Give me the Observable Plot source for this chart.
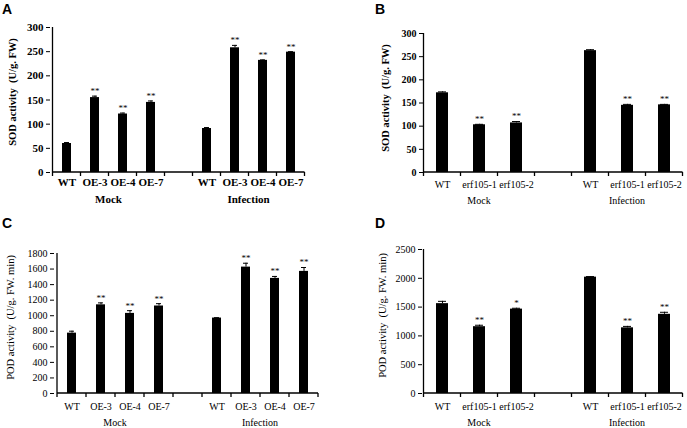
<!DOCTYPE html>
<html>
<head>
<meta charset="utf-8">
<script src="https://cdn.jsdelivr.net/npm/d3@7"></script>
<script src="https://cdn.jsdelivr.net/npm/@observablehq/plot@0.6"></script>
<style>
  html, body { margin: 0; padding: 0; background: #fff; }
  #wrap { position: relative; width: 687px; height: 428px; overflow: hidden; background: #fff; }
  .panel { position: absolute; }
  .letter { position: absolute; font-family: "Liberation Sans", Arial, sans-serif; font-weight: bold; font-size: 14px; color: #000; }
</style>
</head>
<body>
<div id="wrap"></div>
<script>
// ---------- data ----------
const groupNames = ["Mock", "Infection"];
const oeLines = ["WT", "OE-3", "OE-4", "OE-7"];
const erfLines = ["WT", "erf105-1", "erf105-2"];

// Panel A: SOD activity, overexpression lines
const sodOEMock = [60, 155, 121, 145];
const sodOEMockErr = [2, 3, 2, 3];
const sodOEMockSig = ["", "**", "**", "**"];
const sodOEInf = [91, 258, 232, 249];
const sodOEInfErr = [2, 5, 1, 1];
const sodOEInfSig = ["", "**", "**", "**"];

// Panel B: SOD activity, erf105 mutants
const sodErfMock = [172, 103, 107];
const sodErfMockErr = [2, 1, 3];
const sodErfMockSig = ["", "**", "**"];
const sodErfInf = [263, 145, 146];
const sodErfInfErr = [2, 2, 1];
const sodErfInfSig = ["", "**", "**"];

// Panel C: POD activity, overexpression lines
const podOEMock = [776, 1140, 1030, 1125];
const podOEMockErr = [25, 25, 35, 30];
const podOEMockSig = ["", "**", "**", "**"];
const podOEInf = [970, 1625, 1480, 1570];
const podOEInfErr = [5, 50, 25, 50];
const podOEInfSig = ["", "**", "**", "**"];

// Panel D: POD activity, erf105 mutants
const podErfMock = [1560, 1160, 1465];
const podErfMockErr = [40, 25, 15];
const podErfMockSig = ["", "**", "*"];
const podErfInf = [2020, 1140, 1375];
const podErfInfErr = [10, 25, 35];
const podErfInfSig = ["", "**", "**"];

const sodTicks = [0, 50, 100, 150, 200, 250, 300];
const podOETicks = [0, 200, 400, 600, 800, 1000, 1200, 1400, 1600, 1800];
const podErfTicks = [0, 500, 1000, 1500, 2000, 2500];
const sodTitle = "SOD activity\u00a0 (U/g. FW)";
const podTitle = "POD activity\u00a0 (U/g. FW. min)";

// ---------- helpers ----------
function buildRows(lines, mock, mockErr, mockSig, inf, infErr, infSig) {
  const rows = [];
  lines.forEach((l, i) => rows.push({key: "M|" + l, group: groupNames[0], line: l, value: mock[i], err: mockErr[i], sig: mockSig[i]}));
  lines.forEach((l, i) => rows.push({key: "I|" + l, group: groupNames[1], line: l, value: inf[i], err: infErr[i], sig: infSig[i]}));
  return rows;
}

function makePanel(cfg) {
  const rows = cfg.rows;
  const mockKeys = rows.filter(d => d.group === groupNames[0]).map(d => d.key);
  const infKeys = rows.filter(d => d.group === groupNames[1]).map(d => d.key);
  const domain = [...mockKeys, "gap", ...infKeys];
  const lineOf = new Map(rows.map(d => [d.key, d.line]));

  const decor = (index, scales, values, dims) => {
    const x = scales.x, y = scales.y;
    const b0 = x(domain[0]), b1 = x(domain[1]);
    const step = b1 - b0;
    const bw = x.bandwidth ? x.bandwidth() : step * 0.3;
    const off = (step - bw) / 2;
    const y0 = y(0);
    const yTop = y(cfg.ticks[cfg.ticks.length - 1]);
    const left = b0 - off;
    const right = x(domain[domain.length - 1]) + bw + off;
    const g = d3.create("svg:g").attr("stroke", "#000").attr("stroke-width", 1.3).attr("fill", "none");
    g.append("line").attr("x1", left).attr("x2", left).attr("y1", y0).attr("y2", yTop);
    g.append("line").attr("x1", left).attr("x2", right).attr("y1", y0).attr("y2", y0);
    const bounds = domain.map(k => x(k) - off).concat([right]);
    for (const bx of bounds) g.append("line").attr("x1", bx).attr("x2", bx).attr("y1", y0).attr("y2", y0 + 4);
    const gt = g.append("g").attr("stroke", "none").attr("fill", "#000")
      .attr("font-size", cfg.groupSize).attr("font-weight", cfg.groupWeight).attr("text-anchor", "middle");
    [[mockKeys, groupNames[0]], [infKeys, groupNames[1]]].forEach(([ks, name]) => {
      const cx = (x(ks[0]) + x(ks[ks.length - 1]) + bw) / 2;
      gt.append("text").attr("x", cx).attr("y", y0 + cfg.groupOffset).text(name);
    });
    return g.node();
  };

  return Plot.plot({
    width: 344,
    height: 214,
    marginLeft: cfg.ml, marginRight: cfg.mr, marginTop: cfg.mt, marginBottom: cfg.mb,
    style: {fontFamily: "'Liberation Serif', 'Times New Roman', serif", fontSize: cfg.fontSize, background: "transparent", overflow: "visible"},
    x: {domain, paddingInner: cfg.pad, paddingOuter: cfg.pad / 2, axis: null},
    y: {domain: [0, cfg.ticks[cfg.ticks.length - 1]], axis: null},
    marks: [
      Plot.barY(rows, {x: "key", y: "value", fill: "#000"}),
      Plot.ruleX(rows, {x: "key", y1: "value", y2: d => d.value + d.err, stroke: "#000", strokeWidth: 1}),
      Plot.tickY(rows, {x: "key", y: d => d.value + d.err, stroke: "#000", strokeWidth: 1, insetLeft: 2, insetRight: 2}),
      Plot.text(rows.filter(d => d.sig), {x: "key", y: d => d.value + d.err, text: "sig", dy: -5, fontSize: 9, fill: "#000"}),
      Plot.axisY({ticks: cfg.ticks, tickSize: 4, tickPadding: 3, label: null, fontWeight: cfg.yTickWeight, tickFormat: d => String(d)}),
      Plot.axisX({tickSize: 0, tickPadding: cfg.xPad, label: null, fontWeight: cfg.xTickWeight, tickFormat: k => lineOf.get(k) || ""}),
      Plot.text([cfg.title], {frameAnchor: "left", textAnchor: "middle", lineAnchor: "middle", rotate: -90, dx: -cfg.titleOffset, dy: -(cfg.titleUp || 0), fontWeight: cfg.titleWeight, fontSize: cfg.titleSize, fill: "#000"}),
      decor
    ]
  });
}

const panels = [
  {id: "A", left: 0, top: 0, letterX: 2, letterY: 1,
   rows: buildRows(oeLines, sodOEMock, sodOEMockErr, sodOEMockSig, sodOEInf, sodOEInfErr, sodOEInfSig),
   ticks: sodTicks, title: sodTitle,
   ml: 50, mr: 37, mt: 27, mb: 42, pad: 0.685, fontSize: "11px",
   xPad: 6, groupOffset: 31, groupSize: 11, groupWeight: "bold",
   yTickWeight: "bold", xTickWeight: "bold", titleWeight: "bold", titleSize: 10.5, titleOffset: 38, titleUp: 8},
  {id: "B", left: 343, top: 0, letterX: 32, letterY: 1,
   rows: buildRows(erfLines, sodErfMock, sodErfMockErr, sodErfMockSig, sodErfInf, sodErfInfErr, sodErfInfSig),
   ticks: sodTicks, title: sodTitle,
   ml: 80, mr: 4, mt: 33, mb: 42, pad: 0.68, fontSize: "10px",
   xPad: 8, groupOffset: 32, groupSize: 10, groupWeight: "normal",
   yTickWeight: "bold", xTickWeight: "normal", titleWeight: "bold", titleSize: 10.5, titleOffset: 38, titleUp: 5},
  {id: "C", left: 0, top: 214, letterX: 2, letterY: 1,
   rows: buildRows(oeLines, podOEMock, podOEMockErr, podOEMockSig, podOEInf, podOEInfErr, podOEInfSig),
   ticks: podOETicks, title: podTitle,
   ml: 54, mr: 24, mt: 39, mb: 35, pad: 0.69, fontSize: "10px",
   xPad: 9, groupOffset: 33, groupSize: 10, groupWeight: "normal",
   yTickWeight: "normal", xTickWeight: "normal", titleWeight: "normal", titleSize: 10.5, titleOffset: 44, titleUp: 6},
  {id: "D", left: 343, top: 214, letterX: 32, letterY: 1,
   rows: buildRows(erfLines, podErfMock, podErfMockErr, podErfMockSig, podErfInf, podErfInfErr, podErfInfSig),
   ticks: podErfTicks, title: podTitle,
   ml: 79, mr: 4, mt: 35, mb: 35, pad: 0.68, fontSize: "10px",
   xPad: 9, groupOffset: 33, groupSize: 10, groupWeight: "normal",
   yTickWeight: "normal", xTickWeight: "normal", titleWeight: "normal", titleSize: 10.5, titleOffset: 40, titleUp: 6}
];

const wrap = document.getElementById("wrap");
for (const p of panels) {
  const div = document.createElement("div");
  div.className = "panel";
  div.style.left = p.left + "px";
  div.style.top = p.top + "px";
  div.appendChild(makePanel(p));
  wrap.appendChild(div);
  const letter = document.createElement("div");
  letter.className = "letter";
  letter.style.left = (p.left + p.letterX) + "px";
  letter.style.top = (p.top + p.letterY) + "px";
  letter.textContent = p.id;
  wrap.appendChild(letter);
}
</script>
</body>
</html>
